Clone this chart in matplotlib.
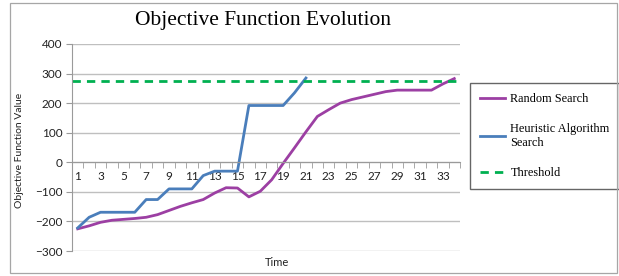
import numpy as np
import matplotlib.pyplot as plt
from matplotlib.patches import Rectangle
from matplotlib.ticker import FixedLocator

# --------------------
# Data
# --------------------
time_steps = list(range(1, 35))
random_search = [-225, -215, -203, -196, -193, -190, -186, -177, -163, -149,
                 -137, -126, -104, -86, -87, -117, -98, -59, -4, 49,
                 103, 155, 178, 200, 212, 221, 230, 239, 244, 244,
                 244, 244, 265, 283]
heuristic = [-222, -186, -169, -169, -169, -169, -126, -126, -90, -90,
             -90, -45, -30, -30, -30, 192, 192, 192, 192, 235,
             285]
threshold = 274
x_labels = [str(i) for i in range(1, 34, 2)]

W, H = 619, 276
fig = plt.figure(figsize=(W / 100, H / 100), dpi=100)

# chart area border
fig.patches.append(Rectangle((10 / W, 3 / H), 607 / W, 270 / H, transform=fig.transFigure,
                             fill=False, edgecolor='#A6A6A6', linewidth=0.9))

ax = fig.add_axes([72 / W, (H - 251) / H, (460 - 72) / W, (251 - 44) / H])

ax.plot(time_steps, random_search, color='#9C3FA3', linewidth=2.0, label='Random Search')
ax.plot(time_steps[:len(heuristic)], heuristic, color='#4A7EBB', linewidth=2.0,
        label='Heuristic Algorithm\nSearch')
ax.axhline(threshold, color='#00B050', linewidth=2.0, linestyle=(0, (3, 2.2)), label='Threshold')

ax.set_xlim(0.5, 34.5)
ax.set_ylim(-300, 400)
ax.set_yticks(range(-300, 401, 100))
ax.grid(axis='y', color='#BFBFBF', linewidth=1.0)
ax.set_axisbelow(True)

for s in ['top', 'right']:
    ax.spines[s].set_visible(False)
ax.spines['left'].set_color('#9A9A9A')
ax.spines['bottom'].set_color('#9A9A9A')
ax.spines['bottom'].set_position(('data', 0))

ax.set_xticks(range(1, 34, 2))
ax.set_xticklabels(x_labels)
ax.xaxis.set_minor_locator(FixedLocator(np.arange(0.5, 35, 1)))
ax.tick_params(axis='x', which='major', length=0, pad=6, labelsize=8.5, labelcolor='#222222')
ax.tick_params(axis='x', which='minor', length=4, color='#9A9A9A', direction='out')
ax.tick_params(axis='y', length=4, color='#9A9A9A', labelsize=8.5, labelcolor='#222222', pad=3)
for lab in ax.get_xticklabels() + ax.get_yticklabels():
    lab.set_family('Lato')

fig.text(263 / W, 1 - 20 / H, 'Objective Function Evolution', ha='center', va='center',
         family='Liberation Serif', fontsize=15.5, color='black')
fig.text(20 / W, 1 - 150 / H, 'Objective Function Value', rotation=90, ha='center', va='center',
         family='Lato', fontsize=7.5, color='#222222')
fig.text(277 / W, 1 - 263 / H, 'Time', ha='center', va='center',
         family='Lato', fontsize=8, color='#222222')

leg = ax.legend(loc='upper left', bbox_to_anchor=(470 / W, 1 - 83 / H), bbox_transform=fig.transFigure,
                frameon=True, fancybox=False, edgecolor='#404040', handlelength=2.1,
                handletextpad=0.4, labelspacing=1.5, borderpad=0.8, borderaxespad=0,
                prop={'family': 'Liberation Serif', 'size': 8.8})
leg.get_frame().set_linewidth(1.0)

fig.savefig('out.png', dpi=100)
